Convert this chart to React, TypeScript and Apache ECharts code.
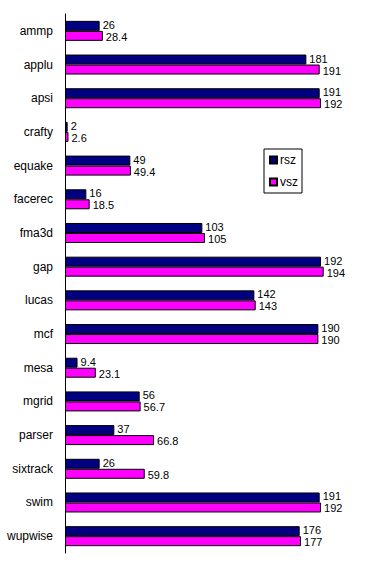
import React, { useEffect, useRef } from "react";
import * as echarts from "echarts";

const categories = ["ammp", "applu", "apsi", "crafty", "equake", "facerec", "fma3d", "gap", "lucas", "mcf", "mesa", "mgrid", "parser", "sixtrack", "swim", "wupwise"];
const rsz = [26, 181, 191, 2, 49, 16, 103, 192, 142, 190, 9.4, 56, 37, 26, 191, 176];
const vsz = [28.4, 191, 192, 2.6, 49.4, 18.5, 105, 194, 143, 190, 23.1, 56.7, 66.8, 59.8, 192, 177];

export default function App() {
  const ref = useRef<HTMLDivElement>(null);
  useEffect(() => {
    const chart = echarts.init(ref.current!, null, { renderer: "svg" });
    const font = "Arial, 'Liberation Sans', sans-serif";
    const mkLabel = (dy: number) => ({
      show: true,
      position: "right" as const,
      distance: 3,
      offset: [0, dy],
      color: "#000",
      fontSize: 11,
      lineHeight: 10,
      fontFamily: font,
    });
    chart.setOption({
      animation: false,
      backgroundColor: "#fff",
      grid: { left: 65, top: 14, width: 266.7, height: 539 },
      legend: {
        orient: "vertical",
        left: 264,
        top: 149,
        width: 36,
        data: ["rsz", "vsz"],
        icon: "rect",
        itemWidth: 7,
        itemHeight: 7,
        itemGap: 10,
        padding: [5, 4, 5, 5],
        borderColor: "#000",
        borderWidth: 1,
        textStyle: { color: "#000", fontSize: 12, fontFamily: font, padding: [0, 0, 0, -2] },
      },
      xAxis: { type: "value", min: 0, max: 200, show: false },
      yAxis: {
        type: "category",
        data: categories,
        inverse: true,
        axisLine: { show: true, lineStyle: { color: "#000", width: 1 } },
        axisTick: { show: false },
        axisLabel: { color: "#000", fontSize: 12, fontFamily: font, margin: 12 },
      },
      series: [
        {
          name: "rsz",
          type: "bar",
          data: rsz,
          barWidth: 10,
          barGap: "0%",
          itemStyle: { color: "#000080", borderColor: "#000", borderWidth: 1 },
          label: mkLabel(-1),
        },
        {
          name: "vsz",
          type: "bar",
          data: vsz,
          barWidth: 10,
          barGap: "0%",
          itemStyle: { color: "#ff00ff", borderColor: "#000", borderWidth: 1 },
          label: mkLabel(1),
        },
      ],
    });
    return () => chart.dispose();
  }, []);
  return <div ref={ref} style={{ position: "fixed", left: 0, top: 0, width: 369, height: 568 }} />;
}
